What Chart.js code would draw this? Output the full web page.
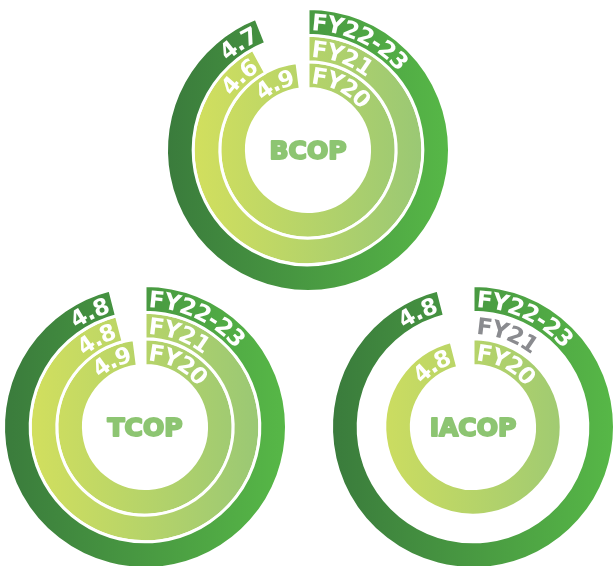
<!DOCTYPE html>
<html>
<head>
<meta charset="utf-8">
<script src="https://cdn.jsdelivr.net/npm/chart.js@4/dist/chart.umd.min.js"></script>
<style>
  html, body { margin: 0; padding: 0; background: #fff; overflow: hidden; }
  #wrap { position: relative; width: 614px; height: 566px; overflow: hidden; }
  #wrap canvas { position: absolute; }
</style>
</head>
<body>
<div id="wrap">
  <canvas id="bcopChart" width="296" height="296" style="left:160px; top:2px;"></canvas>
  <canvas id="tcopChart" width="296" height="296" style="left:-3px; top:279px;"></canvas>
  <canvas id="iacopChart" width="296" height="296" style="left:325px; top:279px;"></canvas>
</div>
<script>
// Survey scores out of 5, one ring per period (outer -> inner)
const periodLabels = ['FY22-23', 'FY21', 'FY20'];
const bcopScores = [4.7, 4.6, 4.9];
const tcopScores = [4.8, 4.8, 4.9];
const iacopScores = [4.8, null, 4.8]; // no FY21 survey
const maxScore = 5;

const outerColors = ['#3a7b3c', '#57b847'];
const innerColors = ['#d9e25b', '#93c577'];
const labelFont = 'bold 23px "DejaVu Sans", sans-serif';
const titleFont = 'bold 25px "DejaVu Sans", sans-serif';

function ringGradient(chart, colors) {
  const area = chart.chartArea;
  if (!area) return colors[0];
  const g = chart.ctx.createLinearGradient(area.left, 0, area.right, 0);
  g.addColorStop(0, colors[0]);
  g.addColorStop(1, colors[1]);
  return g;
}

// writes text along a circle, clockwise, upright at the top
function drawArcText(ctx, text, cx, cy, r, angle, anchor) {
  ctx.font = labelFont;
  const chars = [...text];
  const widths = chars.map(ch => ctx.measureText(ch).width);
  const total = widths.reduce((a, b) => a + b, 0);
  const capH = 17;
  let a = anchor === 'start' ? angle : angle - total / r;
  chars.forEach((ch, k) => {
    const mid = a + (widths[k] / 2) / r;
    ctx.save();
    ctx.translate(cx + r * Math.sin(mid), cy - r * Math.cos(mid));
    ctx.rotate(mid);
    ctx.textAlign = 'center';
    ctx.textBaseline = 'alphabetic';
    ctx.fillText(ch, 0, capH / 2);
    ctx.restore();
    a += widths[k] / r;
  });
}

const ringLabels = {
  id: 'ringLabels',
  afterDatasetsDraw(chart, args, opts) {
    const ctx = chart.ctx;
    let cx = 0, cy = 0;
    chart.data.datasets.forEach((ds, i) => {
      const arc = chart.getDatasetMeta(i).data[0];
      const p = arc.getProps(['x', 'y', 'startAngle', 'endAngle', 'innerRadius', 'outerRadius'], true);
      const r = (p.innerRadius + p.outerRadius) / 2;
      cx = p.x; cy = p.y;
      const empty = ds.score == null;
      ctx.fillStyle = empty ? '#8a8b8f' : '#ffffff';
      drawArcText(ctx, ds.label, p.x, p.y, r, p.startAngle + Math.PI / 2 + 4 / r, 'start');
      if (!empty) {
        drawArcText(ctx, ds.score.toFixed(1), p.x, p.y, r, p.endAngle + Math.PI / 2 - 5 / r, 'end');
      }
    });
    // heavy centre title
    ctx.save();
    ctx.font = titleFont;
    ctx.fillStyle = '#8dc572';
    ctx.strokeStyle = '#8dc572';
    ctx.lineWidth = 2;
    ctx.lineJoin = 'round';
    ctx.textAlign = 'center';
    ctx.textBaseline = 'middle';
    ctx.strokeText(opts.title, cx, cy + 2);
    ctx.fillText(opts.title, cx, cy + 2);
    ctx.restore();
  }
};

function makeRings(canvasId, title, scores) {
  const ctx = document.getElementById(canvasId).getContext('2d');
  const datasets = periodLabels.map((label, i) => {
    const score = scores[i];
    const v = score == null ? 0 : score;
    return {
      label: label,
      score: score,
      data: [v, maxScore - v],
      backgroundColor: c => c.dataIndex === 0
        ? ringGradient(c.chart, i === 0 ? outerColors : innerColors)
        : 'rgba(0,0,0,0)',
      borderColor: '#ffffff',
      borderWidth: c => (c.dataIndex === 0 && score != null) ? 3 : 0
    };
  });

  return new Chart(ctx, {
    type: 'doughnut',
    data: { labels: ['score', 'rest'], datasets: datasets },
    options: {
      responsive: false,
      animation: false,
      events: [],
      cutout: '43.5%',
      rotation: 0,
      circumference: 360,
      layout: { padding: 5 },
      plugins: {
        legend: { display: false },
        tooltip: { enabled: false },
        ringLabels: { title: title }
      }
    },
    plugins: [ringLabels]
  });
}

makeRings('bcopChart', 'BCOP', bcopScores);
makeRings('tcopChart', 'TCOP', tcopScores);
makeRings('iacopChart', 'IACOP', iacopScores);
</script>
</body>
</html>
